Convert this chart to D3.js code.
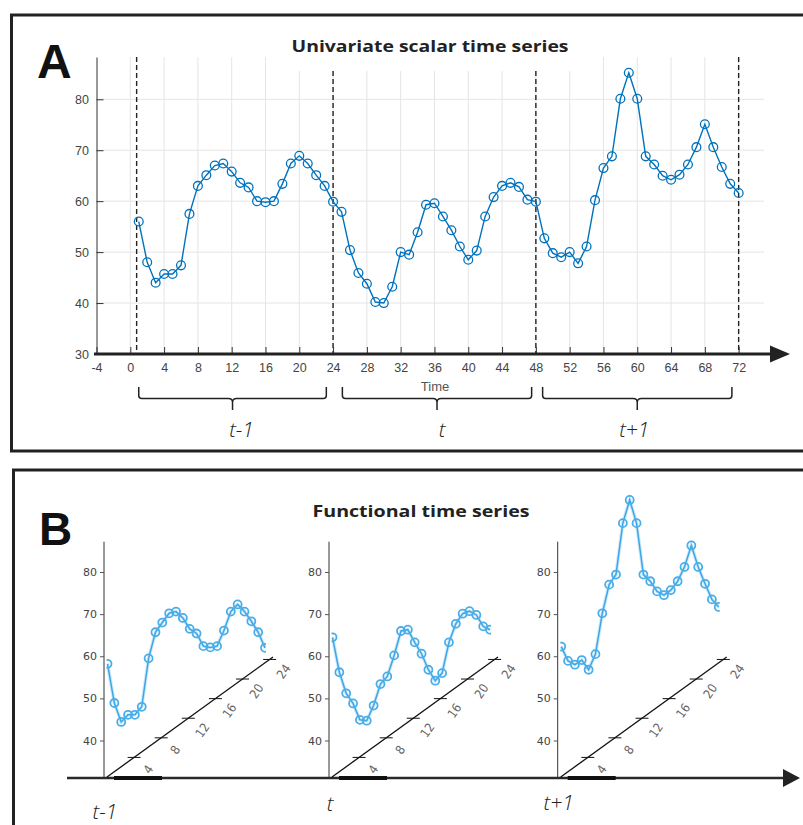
<!DOCTYPE html>
<html>
<head>
<meta charset="utf-8">
<script src="https://cdn.jsdelivr.net/npm/d3@7"></script>
<style>
  body { margin: 0; background: #fff; }
  svg { display: block; }
</style>
</head>
<body>
<div id="chart"></div>
<script>
// values
const timeSteps = d3.range(1, 73)
const seriesA = [56.0, 48.0, 44.0, 45.7, 45.7, 47.4, 57.5, 63.0, 65.1, 67.0, 67.4, 65.8,
  63.6, 62.7, 60.0, 59.8, 60.0, 63.4, 67.4, 68.9, 67.4, 65.1, 63.0, 59.9,
  57.9, 50.4, 45.9, 43.8, 40.2, 40.0, 43.2, 50.0, 49.5, 53.9, 59.3, 59.6,
  57.0, 54.3, 51.1, 48.5, 50.3, 57.0, 60.8, 63.0, 63.6, 62.8, 60.3, 59.9,
  52.7, 49.8, 49.0, 50.0, 47.8, 51.1, 60.2, 66.5, 68.8, 80.1, 85.2, 80.1,
  68.8, 67.2, 65.0, 64.2, 65.2, 67.2, 70.6, 75.1, 70.6, 66.7, 63.4, 61.6]
const timeTicks = [-4, 0, 4, 8, 12, 16, 20, 24, 28, 32, 36, 40, 44, 48, 52, 56, 60, 64, 68, 72]
const valueTicks = [30, 40, 50, 60, 70, 80]
const boundaries = [0.75, 24, 48, 72]
const periodLabels = ['t-1', 't', 't+1']
const periodSpans = [[1, 23.2], [25.1, 47.5], [48.8, 71.2]]

const hours = d3.range(1, 25)
const funcPrev = [58.2, 48.9, 44.4, 46.1, 46.1, 48.0, 59.5, 65.7, 68.0, 70.2, 70.6, 69.1,
  66.5, 65.4, 62.4, 62.1, 62.4, 66.1, 70.6, 72.3, 70.6, 68.3, 65.7, 62.0]
const funcCur = [64.5, 56.2, 51.2, 48.8, 44.9, 44.7, 48.3, 53.4, 55.2, 60.2, 66.0, 66.3,
  63.3, 60.6, 56.8, 54.2, 56.0, 63.3, 67.7, 70.1, 70.7, 69.8, 67.1, 66.3]
const funcNext = [62.3, 58.9, 58.0, 59.1, 56.8, 60.5, 70.2, 77.0, 79.4, 91.6, 97.1, 91.6,
  79.4, 77.8, 75.4, 74.5, 75.7, 77.8, 81.2, 86.3, 81.2, 77.2, 73.5, 71.7]
const funcValueTicks = [40, 50, 60, 70, 80]
const hourTicks = [4, 8, 12, 16, 20, 24]

const W = 803, H = 825
const svg = d3.select('#chart').append('svg').attr('width', W).attr('height', H)
svg.append('rect').attr('width', W).attr('height', H).attr('fill', '#fff')

const titleFont = "'Open Sans', 'Noto Sans', sans-serif"
const tickFont = "'Liberation Sans', Arial, sans-serif"
const bigFont = "'Liberation Sans', Arial, sans-serif"
const italicFont = "'Open Sans', 'Noto Sans', sans-serif"

// ---------------- panel A ----------------
const panelA = svg.append('g')
panelA.append('rect').attr('x', 11.5).attr('y', 15).attr('width', 800).attr('height', 436)
  .attr('fill', 'none').attr('stroke', '#222').attr('stroke-width', 3)
panelA.append('text').attr('x', 37).attr('y', 78).text('A')
  .attr('font-family', bigFont).attr('font-weight', 700).attr('font-size', 48).attr('fill', '#111')

const xA = d3.scaleLinear().domain([-4, 75]).range([96.5, 764])
const yA = d3.scaleLinear().domain([30, 88.3]).range([354, 57])

// grid
panelA.append('g').selectAll('line').data(timeTicks.slice(1)).join('line')
  .attr('x1', d => xA(d)).attr('x2', d => xA(d)).attr('y1', yA.range()[1]).attr('y2', yA.range()[0])
  .attr('stroke', '#e5e5e5').attr('stroke-width', 1)
panelA.append('g').selectAll('line').data(valueTicks.slice(1)).join('line')
  .attr('x1', xA.range()[0]).attr('x2', xA.range()[1]).attr('y1', d => yA(d)).attr('y2', d => yA(d))
  .attr('stroke', '#e5e5e5').attr('stroke-width', 1)

// white box under the title hides the grid
panelA.append('rect').attr('x', 282).attr('y', 40).attr('width', 308).attr('height', 31).attr('fill', '#fff')
panelA.append('text').attr('x', 430).attr('y', 52).attr('text-anchor', 'middle')
  .attr('font-family', titleFont).attr('font-weight', 700).attr('font-size', 16.5).attr('fill', '#222')
  .attr('textLength', 277).attr('lengthAdjust', 'spacingAndGlyphs')
  .text('Univariate scalar time series')

// dashed period boundaries
panelA.append('g').selectAll('line').data(boundaries).join('line')
  .attr('x1', d => xA(d)).attr('x2', d => xA(d))
  .attr('y1', (d, i) => (i == 1 || i == 2) ? 71 : yA.range()[1]).attr('y2', yA.range()[0])
  .attr('stroke', '#222').attr('stroke-width', 1.4).attr('stroke-dasharray', '5,3')

// series
const lineA = d3.line().x((d, i) => xA(timeSteps[i])).y(d => yA(d))
panelA.append('path').datum(seriesA).attr('d', lineA)
  .attr('fill', 'none').attr('stroke', '#0072BD').attr('stroke-width', 1.4)
panelA.append('g').selectAll('circle').data(seriesA).join('circle')
  .attr('cx', (d, i) => xA(timeSteps[i])).attr('cy', d => yA(d)).attr('r', 4.4)
  .attr('fill', 'none').attr('stroke', '#0072BD').attr('stroke-width', 1.3)

// y axis
let yAxisA = panelA.append('g').attr('transform', `translate(${xA(-4)},0)`)
  .call(d3.axisLeft(yA).tickValues(valueTicks).tickFormat(d => d)
    .tickSizeInner(-7).tickSizeOuter(0).tickPadding(7.5))
yAxisA.select('.domain').attr('stroke', '#333')
yAxisA.selectAll('.tick line').attr('stroke', '#333')
yAxisA.selectAll('text').attr('font-family', tickFont).attr('font-size', 12.5).attr('fill', '#444')

// x axis
let xAxisA = panelA.append('g').attr('transform', `translate(0,${yA(30)})`)
  .call(d3.axisBottom(xA).tickValues(timeTicks).tickFormat(d => d)
    .tickSizeInner(-7).tickSizeOuter(0).tickPadding(9.5))
xAxisA.select('.domain').remove()
xAxisA.selectAll('.tick line').attr('stroke', '#333')
xAxisA.selectAll('text').attr('font-family', tickFont).attr('font-size', 12.5).attr('fill', '#444')
panelA.append('line').attr('x1', 94).attr('x2', 775).attr('y1', yA(30)).attr('y2', yA(30))
  .attr('stroke', '#222').attr('stroke-width', 3)
panelA.append('path').attr('d', `M770,${yA(30) - 8.5}L790,${yA(30)}L770,${yA(30) + 8.5}Z`).attr('fill', '#222')

panelA.append('text').attr('x', 435).attr('y', 391).attr('text-anchor', 'middle')
  .attr('font-family', tickFont).attr('font-size', 13).attr('fill', '#555').text('Time')

// braces under the periods
const bracePath = (x0, x1) => {
  let xc = (x0 + x1) / 2
  let top = 387, mid = 398.5, tip = 410
  return `M${x0},${top}L${x0},${mid - 3}Q${x0},${mid} ${x0 + 3},${mid}L${xc - 4},${mid}` +
    `Q${xc},${mid} ${xc},${mid + 4}L${xc},${tip}M${xc},${mid + 4}Q${xc},${mid} ${xc + 4},${mid}` +
    `L${x1 - 3},${mid}Q${x1},${mid} ${x1},${mid - 3}L${x1},${top}`
}
const braceLabelShift = [9, 5, -3]
periodSpans.forEach((s, i) => {
  let x0 = xA(s[0]), x1 = xA(s[1])
  panelA.append('path').attr('d', bracePath(x0, x1))
    .attr('fill', 'none').attr('stroke', '#222').attr('stroke-width', 1.5)
  panelA.append('text').attr('x', (x0 + x1) / 2 + braceLabelShift[i]).attr('y', 437)
    .attr('text-anchor', 'middle').attr('font-family', italicFont).attr('font-style', 'italic')
    .attr('font-weight', 300).attr('font-size', 21).attr('fill', '#222').text(periodLabels[i])
})

// ---------------- panel B ----------------
const panelB = svg.append('g')
panelB.append('rect').attr('x', 13.5).attr('y', 470).attr('width', 800).attr('height', 380)
  .attr('fill', 'none').attr('stroke', '#222').attr('stroke-width', 3)
panelB.append('text').attr('x', 39).attr('y', 545).text('B')
  .attr('font-family', bigFont).attr('font-weight', 700).attr('font-size', 46).attr('fill', '#111')
panelB.append('text').attr('x', 421).attr('y', 517).attr('text-anchor', 'middle')
  .attr('font-family', titleFont).attr('font-weight', 700).attr('font-size', 16.5).attr('fill', '#222')
  .attr('textLength', 217).attr('lengthAdjust', 'spacingAndGlyphs')
  .text('Functional time series')

const baseY = 778
panelB.append('line').attr('x1', 67).attr('x2', 786).attr('y1', baseY).attr('y2', baseY)
  .attr('stroke', '#2a2a2a').attr('stroke-width', 2.7)
panelB.append('path').attr('d', `M783,${baseY - 9}L800,${baseY}L783,${baseY + 9}Z`).attr('fill', '#222')

const yB = d3.scaleLinear().domain([40, 80]).range([740.5, 572])
const funcSeries = [funcPrev, funcCur, funcNext]
const panelLeft = [104, 329, 557.7]
const funcLabelY = [819, 811, 810]

funcSeries.forEach((vals, k) => {
  let ox = panelLeft[k]
  let g = panelB.append('g')

  // diagonal hour axis
  let dx = d3.scaleLinear().domain([0, 24.5]).range([ox + 3, ox + 169])
  let dy = d3.scaleLinear().domain([0, 24.5]).range([777, 657])
  g.append('line').attr('x1', dx(0)).attr('y1', dy(0)).attr('x2', dx(24.5)).attr('y2', dy(24.5))
    .attr('stroke', '#111').attr('stroke-width', 1.3)
  g.selectAll('.htick').data(hourTicks).join('line').attr('class', 'htick')
    .attr('x1', d => dx(d) - 6.5).attr('x2', d => dx(d) + 6.5)
    .attr('y1', d => dy(d)).attr('y2', d => dy(d))
    .attr('stroke', '#111').attr('stroke-width', 1)
  g.selectAll('.hlab').data(hourTicks).join('text').attr('class', 'hlab')
    .attr('transform', d => `translate(${dx(d) + 14},${dy(d) + 12}) rotate(-55)`)
    .attr('text-anchor', 'middle').attr('dy', '0.35em')
    .attr('font-family', "'DejaVu Sans Condensed', 'Liberation Sans Narrow', sans-serif")
    .attr('font-size', 12.5).attr('fill', '#666').text(d => d)

  // thick stub on the base line
  g.append('line').attr('x1', ox + 10).attr('x2', ox + 58).attr('y1', baseY).attr('y2', baseY)
    .attr('stroke', '#111').attr('stroke-width', 4)

  // value axis
  g.append('line').attr('x1', ox).attr('x2', ox).attr('y1', 541.7).attr('y2', baseY)
    .attr('stroke', '#333').attr('stroke-width', 1)
  let ax = g.append('g').attr('transform', `translate(${ox},0)`)
    .call(d3.axisLeft(yB).tickValues(funcValueTicks).tickSizeInner(4).tickSizeOuter(0).tickPadding(3))
  ax.select('.domain').remove()
  ax.selectAll('.tick line').attr('stroke', '#555')
  ax.selectAll('text').attr('font-family', "'DejaVu Sans', sans-serif").attr('font-size', 11).attr('fill', '#444')

  // curve, cut at both ends like the pasted plots
  let xi = d3.scaleLinear().domain([1, 24]).range([ox + 3.5, ox + 3.5 + 23 * 6.85])
  let clipId = 'clip' + k
  g.append('clipPath').attr('id', clipId).append('rect')
    .attr('x', xi(1) - 1).attr('y', 480).attr('width', xi(24) - xi(1) + 2).attr('height', 300)
  let cg = g.append('g').attr('clip-path', `url(#${clipId})`)
  let lineB = d3.line().x((d, i) => xi(hours[i])).y(d => yB(d))
  cg.append('path').datum(vals).attr('d', lineB)
    .attr('fill', 'none').attr('stroke', '#8fcdf2').attr('stroke-width', 3.5).attr('stroke-opacity', 0.45)
  cg.append('path').datum(vals).attr('d', lineB)
    .attr('fill', 'none').attr('stroke', '#3ea6e6').attr('stroke-width', 1.5)
  cg.selectAll('circle').data(vals).join('circle')
    .attr('cx', (d, i) => xi(hours[i])).attr('cy', d => yB(d)).attr('r', 4)
    .attr('fill', 'none').attr('stroke', '#4aaee8').attr('stroke-width', 1.8)

  g.append('text').attr('x', ox + 1).attr('y', funcLabelY[k]).attr('text-anchor', 'middle')
    .attr('font-family', italicFont).attr('font-style', 'italic').attr('font-weight', 300)
    .attr('font-size', 21).attr('fill', '#222').text(periodLabels[k])
})
</script>
</body>
</html>
